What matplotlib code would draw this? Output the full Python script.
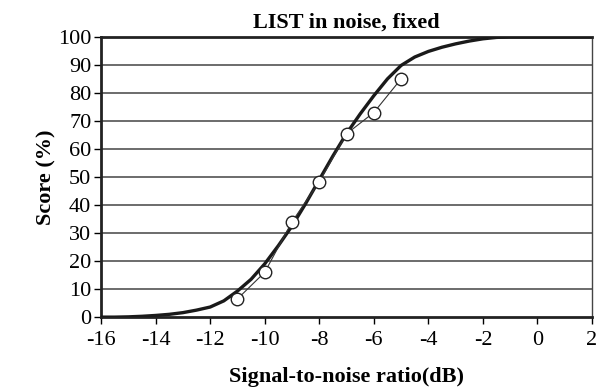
import matplotlib.pyplot as plt

# fitted psychometric curve (dB, %)
curve_snr = [-16, -15.5, -15, -14.5, -14, -13.5, -13, -12.5, -12, -11.5, -11, -10.5,
             -10, -9.5, -9, -8.5, -8, -7.5, -7, -6.5, -6, -5.5, -5, -4.5, -4,
             -3.5, -3, -2.5, -2, -1.5, -1, 0, 1, 2]
curve_score = [0, 0, 0.1, 0.3, 0.6, 1.0, 1.6, 2.5, 3.6, 5.8, 9.3, 13.5,
               19, 25.5, 32.5, 40.5, 49, 57.5, 65.5, 72.5, 79, 85, 89.8, 92.8, 94.8,
               96.3, 97.5, 98.5, 99.3, 99.8, 100, 100, 100, 100]

# measured scores
meas_snr = [-11, -10, -9, -8, -7, -6, -5]
meas_score = [6.5, 16, 34, 48.3, 65.4, 73, 85]

plt.rcParams['font.family'] = ['Liberation Serif', 'DejaVu Serif']
plt.rcParams['axes.unicode_minus'] = False

fig = plt.figure(figsize=(5.98, 3.92), dpi=100)
ax = fig.add_axes([0.169, 0.191, 0.821, 0.715])

for v in range(10, 100, 10):
    ax.axhline(v, color='#444444', lw=1.1, zorder=1)

ax.plot(curve_snr, curve_score, color='#1a1a1a', lw=2.4, zorder=3)
ax.plot(meas_snr, meas_score, color='#333333', lw=0.8, marker='o', ms=9,
        mfc='white', mec='#222222', mew=1.0, zorder=4)

ax.set_xlim(-16, 2)
ax.set_ylim(0, 100)
ax.set_xticks(range(-16, 3, 2))
ax.set_yticks(range(0, 101, 10))
ax.tick_params(labelsize=16, direction='out', length=5, width=1, colors='black')
ax.tick_params(axis='x', pad=5)
ax.tick_params(axis='y', pad=2)

for s in ['left', 'bottom', 'top']:
    ax.spines[s].set_linewidth(2)
    ax.spines[s].set_color('#222222')
ax.spines['right'].set_linewidth(1)
ax.spines['right'].set_color('#444444')

ax.set_title('LIST in noise, fixed', fontsize=16, fontweight='bold', pad=7)
ax.set_xlabel('Signal-to-noise ratio(dB)', fontsize=16, fontweight='bold', labelpad=12)
ax.set_ylabel('Score (%)', fontsize=16, fontweight='bold', labelpad=1)

fig.savefig('out.png', dpi=100)
